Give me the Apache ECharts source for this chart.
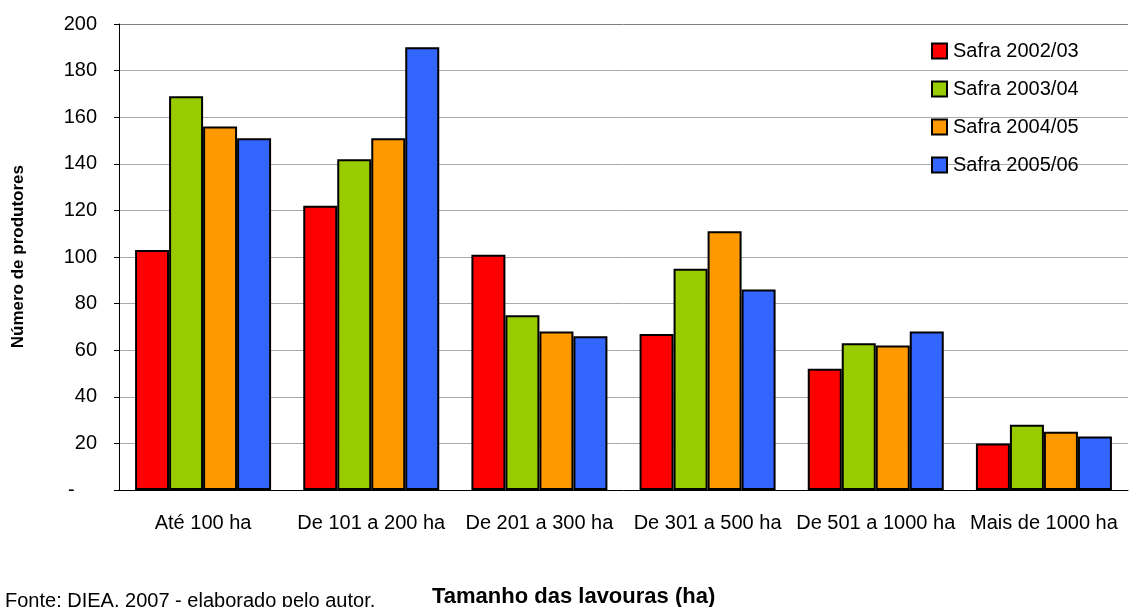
<!DOCTYPE html>
<html>
<head>
<meta charset="utf-8">
<script src="https://cdn.jsdelivr.net/npm/echarts@6/dist/echarts.min.js"></script>
<style>
  html, body { margin: 0; padding: 0; background: #fff; }
  #chart { width: 1129px; height: 607px; }
</style>
</head>
<body>
<div id="chart"></div>
<script>
const categories = ['Até 100 ha', 'De 101 a 200 ha', 'De 201 a 300 ha', 'De 301 a 500 ha', 'De 501 a 1000 ha', 'Mais de 1000 ha']
const seriesNames = ['Safra 2002/03', 'Safra 2003/04', 'Safra 2004/05', 'Safra 2005/06']
const safra0203 = [103, 122, 101, 67, 52, 20]
const safra0304 = [169, 142, 75, 95, 63, 28]
const safra0405 = [156, 151, 68, 111, 62, 25]
const safra0506 = [151, 190, 66, 86, 68, 23]
const colors = ['#ff0000', '#99cc00', '#ff9900', '#3366ff']

const values = [safra0203, safra0304, safra0405, safra0506]
const font = 'Liberation Sans, Arial, sans-serif'

const chart = echarts.init(document.getElementById('chart'))

// last split line (200) is the darker top border of the plot area
const gridColors = Array(10).fill('#aaaaaa').concat(['#808080'])

chart.setOption({
  animation: false,
  textStyle: { fontFamily: font },
  grid: { left: 119, right: 1, top: 24, bottom: 117 },
  legend: {
    orient: 'vertical',
    left: 931,
    top: 41,
    padding: 0,
    itemWidth: 15,
    itemHeight: 15,
    itemGap: 18,
    icon: 'rect',
    textStyle: { fontSize: 20, color: '#000', fontFamily: font, padding: [0, 0, 0, 1] },
    data: seriesNames
  },
  xAxis: {
    type: 'category',
    data: categories,
    axisLine: { lineStyle: { color: '#000', width: 1 } },
    axisTick: { length: 5, lineStyle: { color: '#000' } },
    axisLabel: { color: '#000', fontSize: 20, margin: 23, interval: 0 }
  },
  yAxis: {
    type: 'value',
    min: 0,
    max: 200,
    interval: 20,
    axisLine: { show: true, lineStyle: { color: '#000' } },
    axisTick: { show: true, length: 5, lineStyle: { color: '#000' } },
    axisLabel: {
      color: '#000', fontSize: 20, margin: 22,
      formatter: v => v === 0 ? '-    ' : String(v)
    },
    splitLine: { lineStyle: { color: gridColors, width: 1 } }
  },
  series: seriesNames.map((name, i) => ({
    name,
    type: 'bar',
    data: values[i],
    barWidth: 34,
    barGap: '0%',
    itemStyle: { color: colors[i], borderColor: '#000', borderWidth: 2 }
  })),
  graphic: [
    {
      type: 'text',
      left: 10,
      top: 165,
      rotation: Math.PI / 2,
      style: { text: 'Número de produtores', font: 'bold 17px ' + font, fill: '#000' }
    },
    {
      type: 'text',
      left: 432,
      top: 586,
      style: { text: 'Tamanho das lavouras (ha)', font: 'bold 22px ' + font, fill: '#000' }
    },
    {
      type: 'text',
      left: 5,
      top: 591,
      style: { text: 'Fonte: DIEA, 2007 - elaborado pelo autor.', font: '20px ' + font, fill: '#000' }
    }
  ]
})
</script>
</body>
</html>
